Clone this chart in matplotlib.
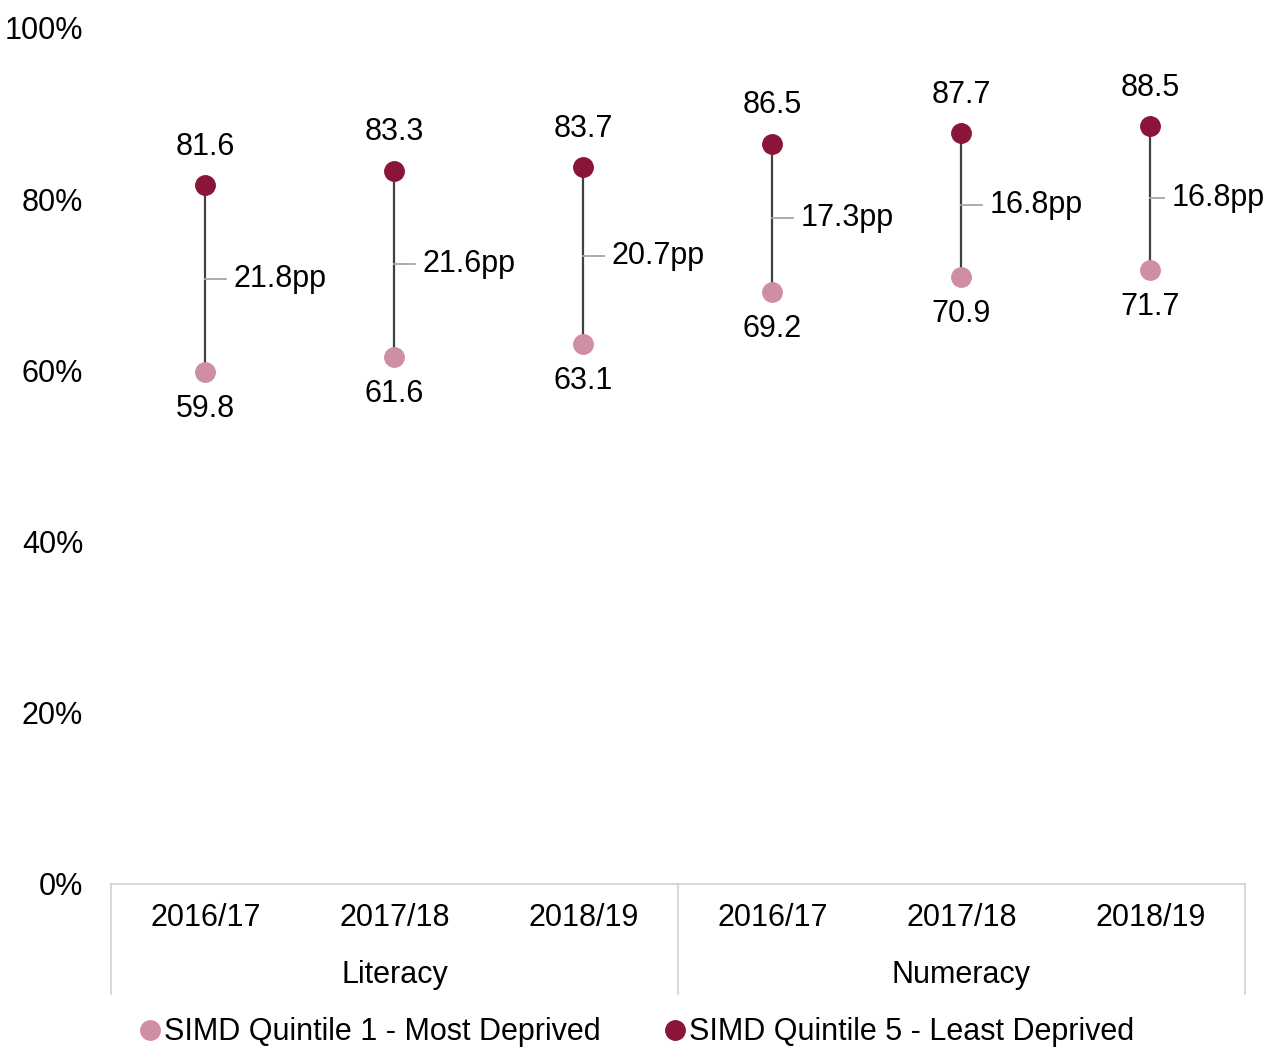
import matplotlib.pyplot as plt
from matplotlib.lines import Line2D
from matplotlib.ticker import PercentFormatter
import matplotlib.transforms as mtransforms

plt.rcParams['font.family'] = ['Liberation Sans', 'DejaVu Sans']

years = ['2016/17', '2017/18', '2018/19', '2016/17', '2017/18', '2018/19']
groups = ['Literacy', 'Numeracy']
q1 = [59.8, 61.6, 63.1, 69.2, 70.9, 71.7]
q5 = [81.6, 83.3, 83.7, 86.5, 87.7, 88.5]
gaps = ['21.8pp', '21.6pp', '20.7pp', '17.3pp', '16.8pp', '16.8pp']

light = '#cf8fa3'
dark = '#8b1538'
fs = 22

fig = plt.figure(figsize=(12.65, 10.47), dpi=100)
ax = fig.add_axes([0.0877, 0.1557, 0.8963, 0.8176])

x = list(range(len(years)))
for i in x:
    ax.plot([i, i], [q1[i], q5[i]], color='#404040', lw=1.6, zorder=1)
    mid = (q1[i] + q5[i]) / 2
    # the last label is squeezed against the right edge, as in the original
    tick, gap = (0.07, 0.115) if i == x[-1] else (0.11, 0.148)
    ax.plot([i, i + tick], [mid, mid], color='#a6a6a6', lw=1.3, zorder=1)
    ax.text(i + gap, mid, gaps[i], fontsize=fs, va='center', ha='left')
    ax.annotate(f'{q5[i]:.1f}', (i, q5[i]), xytext=(0, 17), textcoords='offset points',
                ha='center', va='bottom', fontsize=fs)
    ax.annotate(f'{q1[i]:.1f}', (i, q1[i]), xytext=(0, -16), textcoords='offset points',
                ha='center', va='top', fontsize=fs)

ax.plot(x, q1, 'o', color=light, ms=14, zorder=2)
ax.plot(x, q5, 'o', color=dark, ms=14, zorder=2)

ax.set_xlim(-0.5, 5.5)
ax.set_ylim(0, 100)
ax.set_yticks(range(0, 101, 20))
ax.yaxis.set_major_formatter(PercentFormatter(decimals=0))
ax.tick_params(axis='y', length=0, labelsize=fs, pad=20)
ax.set_xticks([])
for s in ['top', 'right', 'left']:
    ax.spines[s].set_visible(False)
ax.spines['bottom'].set_color('#d0d0d0')
ax.spines['bottom'].set_linewidth(1.2)

trans = mtransforms.blended_transform_factory(ax.transData, ax.transAxes)
for i, y in enumerate(years):
    ax.text(i, -0.04, y, transform=trans, ha='center', va='center', fontsize=fs)
for g, name in enumerate(groups):
    ax.text(g * 3 + 1, -0.106, name, transform=trans, ha='center', va='center', fontsize=fs)
for xs in [-0.5, 2.5, 5.5]:
    ax.plot([xs, xs], [0, -0.128], transform=trans, color='#d0d0d0', lw=1.2, clip_on=False)

handles = [Line2D([], [], marker='o', ls='', color=light, ms=14),
           Line2D([], [], marker='o', ls='', color=dark, ms=14)]
fig.legend(handles, ['SIMD Quintile 1 - Most Deprived', 'SIMD Quintile 5 - Least Deprived'],
           loc='center', bbox_to_anchor=(0.502, 0.014), ncol=2, frameon=False,
           fontsize=fs, handletextpad=0.0, columnspacing=2.0, handlelength=0.9)

fig.savefig('out.png', dpi=100)
